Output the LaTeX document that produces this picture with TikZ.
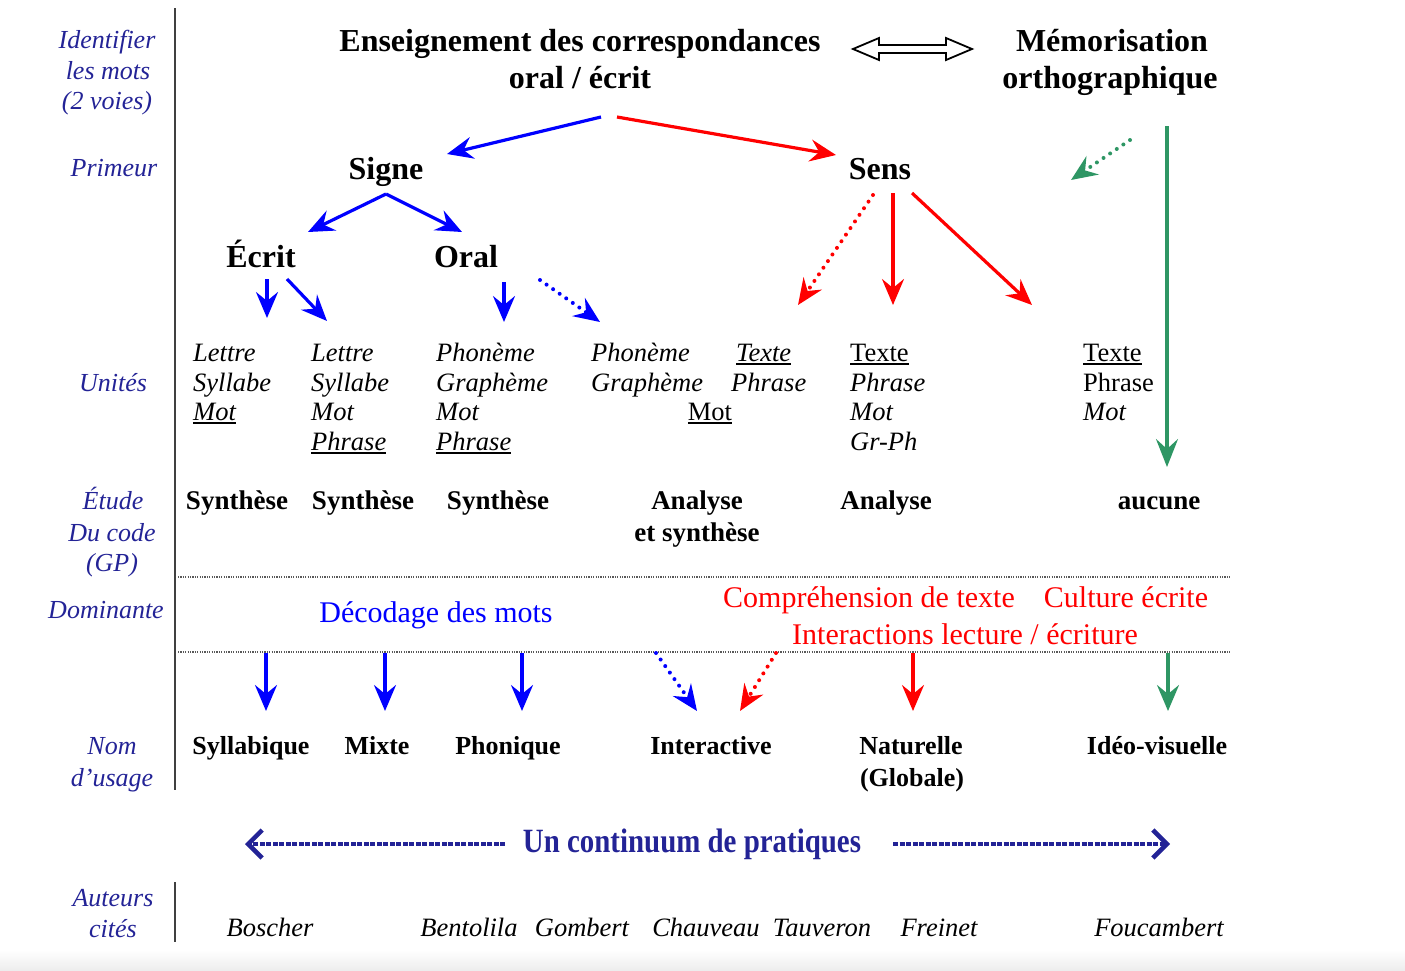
\documentclass[tikz,border=0pt]{standalone}
\usepackage{fontspec}
\usepackage{graphicx}
\setmainfont{Liberation Serif}
\usetikzlibrary{arrows.meta}
\definecolor{navy}{RGB}{35,35,150}
\definecolor{myblue}{RGB}{0,0,255}
\definecolor{myred}{RGB}{255,0,0}
\definecolor{mygreen}{RGB}{46,150,100}
\newcommand{\myul}[1]{\setbox0\hbox{#1}\rlap{\rule[-3.5pt]{\wd0}{1.6pt}}\box0}
\begin{document}
\begin{tikzpicture}[x=1pt,y=-1pt,
  every node/.style={inner sep=0pt, anchor=base},
  lab/.style={font=\fontsize{26}{30}\selectfont\itshape, text=navy},
  big/.style={font=\fontsize{32}{38}\selectfont\bfseries},
  unit/.style={font=\fontsize{26.5}{30}\selectfont\itshape, anchor=base west},
  unitup/.style={font=\fontsize{26.5}{30}\selectfont, anchor=base west},
  etude/.style={font=\fontsize{27}{32}\selectfont\bfseries},
  dom/.style={font=\fontsize{30}{36}\selectfont},
  nom/.style={font=\fontsize{26}{32}\selectfont\bfseries},
  auth/.style={font=\fontsize{26.5}{30}\selectfont\itshape},
  arr/.style={line width=3.2pt, -{Stealth[length=26pt,width=22pt,inset=9pt]}},
  dots/.style={line width=4pt, line cap=round, dash pattern=on 0pt off 8pt},
  sep/.style={line width=2pt, gray!70!black, dash pattern=on 1.2pt off 1.2pt},
  border/.style={line width=2pt, black!75},
  cont/.style={navy, line width=3.5pt, dash pattern=on 5pt off 1.5pt, -{Straight Barb[length=14pt,width=28pt,line width=4.5pt]}}
]
\useasboundingbox (0,0) rectangle (1405,970);
\shade[top color=white, bottom color=gray!14] (0,950) rectangle (1405,970);

% borders and separators
\coordinate (b1) at (175,8);
\coordinate (b2) at (175,790);
\draw[border] (b1) -- (b2);
\coordinate (b3) at (175,882);
\coordinate (b4) at (175,942);
\draw[border] (b3) -- (b4);
\coordinate (s1a) at (178,577); \coordinate (s1b) at (1231,577);
\coordinate (s2a) at (178,652); \coordinate (s2b) at (1231,652);
\draw[sep] (s1a) -- (s1b);
\draw[sep] (s2a) -- (s2b);

% left labels
\node[lab] (l1) at (107,48) {Identifier};
\node[lab] (l2) at (108,79) {les mots};
\node[lab] (l3) at (107,109) {(2 voies)};
\node[lab] (l4) at (114,176) {Primeur};
\node[lab] (l5) at (113,391) {Unités};
\node[lab] (l6) at (113,509) {Étude};
\node[lab] (l7) at (112,541) {Du code};
\node[lab] (l8) at (112,571) {(GP)};
\node[lab] (l9) at (106,618) {Dominante};
\node[lab] (l10) at (112,754) {Nom};
\node[lab] (l11) at (112,786) {d’usage};
\node[lab] (l12) at (113,906) {Auteurs};
\node[lab] (l13) at (113,937) {cités};

% header
\node[big] (ens1) at (580,51) {Enseignement des correspondances};
\node[big] (ens2) at (580,88) {oral / écrit};
\node[big] (mem1) at (1112,51) {Mémorisation};
\node[big] (mem2) at (1110,88) {orthographique};
\draw[line width=1.8pt, fill=white] (853,49) -- (879,38) -- (879,45) -- (946,45) -- (946,38) -- (972,49) -- (946,60) -- (946,53) -- (879,53) -- (879,60) -- cycle;

% level 2
\node[big] (signe) at (386,179) {Signe};
\node[big] (sens) at (880,179) {Sens};
\coordinate (t1) at (601,117); \coordinate (t1e) at (447,154);
\coordinate (t2) at (617,117); \coordinate (t2e) at (836,155);
\draw[arr, myblue] (t1) -- (t1e);
\draw[arr, myred] (t2) -- (t2e);

% level 3
\node[big] (ecrit) at (261,267) {Écrit};
\node[big] (oral) at (466,267) {Oral};
\coordinate (sg) at (386,194);
\coordinate (sgl) at (308,232);
\coordinate (sgr) at (462,232);
\draw[arr, myblue] (sg) -- (sgl);
\draw[arr, myblue] (sg) -- (sgr);

% arrows to units
\coordinate (e1) at (267,279); \coordinate (e1e) at (267,318);
\coordinate (e2) at (287,279); \coordinate (e2e) at (327,321);
\coordinate (o1) at (504,282); \coordinate (o1e) at (504,322);
\coordinate (o2) at (540,280); \coordinate (o2e) at (600,322);
\draw[arr, myblue] (e1) -- (e1e);
\draw[arr, myblue] (e2) -- (e2e);
\draw[arr, myblue] (o1) -- (o1e);
\draw[arr, myblue, dots] (o2) -- (o2e);
\coordinate (r1) at (873,195); \coordinate (r1e) at (798,305);
\coordinate (r2) at (893,193); \coordinate (r2e) at (893,305);
\coordinate (r3) at (912,193); \coordinate (r3e) at (1032,305);
\draw[arr, myred, dots] (r1) -- (r1e);
\draw[arr, myred] (r2) -- (r2e);
\draw[arr, myred] (r3) -- (r3e);
\coordinate (g1) at (1130,140); \coordinate (g1e) at (1071,180);
\coordinate (g2) at (1167,126); \coordinate (g2e) at (1167,467);
\draw[arr, mygreen, dots] (g1) -- (g1e);
\draw[mygreen, line width=3.2pt, -{Stealth[length=28pt,width=22pt,inset=10pt]}] (g2) -- (g2e);

% units
\node[unit] (u11) at (193,361) {Lettre};
\node[unit] (u12) at (193,391) {Syllabe};
\node[unit] (u13) at (193,420) {\myul{Mot}};
\node[unit] (u21) at (311,361) {Lettre};
\node[unit] (u22) at (311,391) {Syllabe};
\node[unit] (u23) at (311,420) {Mot};
\node[unit] (u24) at (311,450) {\myul{Phrase}};
\node[unit] (u31) at (436,361) {Phonème};
\node[unit] (u32) at (436,391) {Graphème};
\node[unit] (u33) at (436,420) {Mot};
\node[unit] (u34) at (436,450) {\myul{Phrase}};
\node[unit] (u41) at (591,361) {Phonème};
\node[unit] (u42) at (591,391) {Graphème};
\node[unit] (u51) at (736,361) {\myul{Texte}};
\node[unit] (u52) at (731,391) {Phrase};
\node[unitup, anchor=base] (u53) at (710,420) {\myul{Mot}};
\node[unitup] (u61) at (850,361) {\myul{Texte}};
\node[unit] (u62) at (850,391) {Phrase};
\node[unit] (u63) at (850,420) {Mot};
\node[unit] (u64) at (850,450) {Gr-Ph};
\node[unitup] (u71) at (1083,361) {\myul{Texte}};
\node[unitup] (u72) at (1083,391) {Phrase};
\node[unit] (u73) at (1083,420) {Mot};

% etude
\node[etude] (et1) at (237,509) {Synthèse};
\node[etude] (et2) at (363,509) {Synthèse};
\node[etude] (et3) at (498,509) {Synthèse};
\node[etude] (et4) at (697,509) {Analyse};
\node[etude] (et4b) at (697,541) {et synthèse};
\node[etude] (et5) at (886,509) {Analyse};
\node[etude] (et6) at (1159,509) {aucune};

% dominante
\node[dom, text=myblue] (d1) at (436,622) {Décodage des mots};
\node[dom, text=myred] (d2) at (869,607) {Compréhension de texte};
\node[dom, text=myred] (d3) at (1126,607) {Culture écrite};
\node[dom, text=myred] (d4) at (965,644) {Interactions lecture / écriture};

% arrows to noms
\coordinate (n1) at (266,653); \coordinate (n1e) at (266,711);
\coordinate (n2) at (385,653); \coordinate (n2e) at (385,711);
\coordinate (n3) at (522,653); \coordinate (n3e) at (522,711);
\coordinate (n4) at (656,653); \coordinate (n4e) at (697,711);
\coordinate (n5) at (776,653); \coordinate (n5e) at (740,711);
\coordinate (n6) at (913,653); \coordinate (n6e) at (913,711);
\coordinate (n7) at (1168,653); \coordinate (n7e) at (1168,711);
\draw[arr, myblue] (n1) -- (n1e);
\draw[arr, myblue] (n2) -- (n2e);
\draw[arr, myblue] (n3) -- (n3e);
\draw[arr, myblue, dots] (n4) -- (n4e);
\draw[arr, myred, dots] (n5) -- (n5e);
\draw[arr, myred] (n6) -- (n6e);
\draw[arr, mygreen] (n7) -- (n7e);

% noms
\node[nom] (m1) at (251,754) {Syllabique};
\node[nom] (m2) at (377,754) {Mixte};
\node[nom] (m3) at (508,754) {Phonique};
\node[nom] (m4) at (711,754) {Interactive};
\node[nom] (m5) at (911,754) {Naturelle};
\node[nom] (m5b) at (912,786) {(Globale)};
\node[nom] (m6) at (1157,754) {Idéo-visuelle};

% continuum
\node[font=\fontsize{34}{40}\selectfont\bfseries, text=navy] (cnt) at (692,852) {\scalebox{0.85}[1]{Un continuum de pratiques}};
\coordinate (c1) at (505,844); \coordinate (c1e) at (245,844);
\coordinate (c2) at (893,844); \coordinate (c2e) at (1170,844);
\draw[cont] (c1) -- (c1e);
\draw[cont] (c2) -- (c2e);

% auteurs
\node[auth] (a1) at (270,936) {Boscher};
\node[auth] (a2) at (469,936) {Bentolila};
\node[auth] (a3) at (582,936) {Gombert};
\node[auth] (a4) at (706,936) {Chauveau};
\node[auth] (a5) at (822,936) {Tauveron};
\node[auth] (a6) at (939,936) {Freinet};
\node[auth] (a7) at (1159,936) {Foucambert};
\end{tikzpicture}
\end{document}
